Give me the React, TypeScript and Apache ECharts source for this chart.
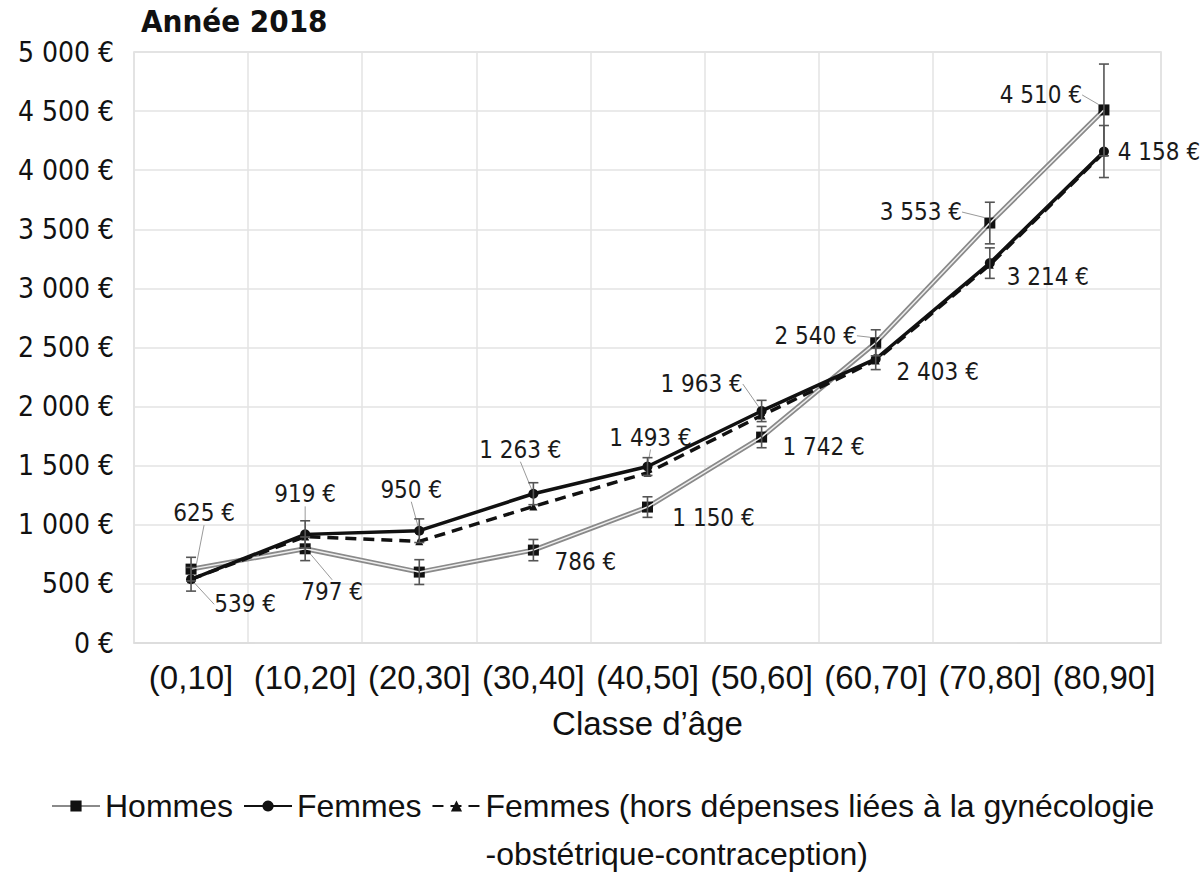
import React, { useEffect, useRef } from "react";
import * as echarts from "echarts";

const categories = ["(0,10]", "(10,20]", "(20,30]", "(30,40]", "(40,50]", "(50,60]", "(60,70]", "(70,80]", "(80,90]"];
const hommes = [625, 797, 600, 786, 1150, 1742, 2540, 3553, 4510];
const femmes = [539, 919, 950, 1263, 1493, 1963, 2403, 3214, 4158];
const femmesHors = [540, 900, 860, 1155, 1440, 1925, 2390, 3200, 4150];
const hommesErr = [100, 100, 105, 90, 87, 90, 110, 176, 388];
const femmesErr = [100, 115, 100, 93, 75, 90, 90, 129, 220];
const yMin = 0;
const yMax = 5000;
const yStep = 500;

const titleText = "Année 2018";
const xAxisName = "Classe d’âge";
const nameHommes = "Hommes";
const nameFemmes = "Femmes";
const nameFemmesHors = "Femmes (hors dépenses liées à la gynécologie-obstétrique-contraception)";

// label placement (offset of label centre from the point) and leader-line visibility
const hommesLabelOffset: ([number, number] | null)[] = [[13, -56], [27, 43], null, [52, 12], [66, 11], [62, 10], [-60, -7], [-69, -11], [-63, -15]];
const hommesLeader = [true, true, false, false, false, false, true, true, true];
const femmesLabelOffset: ([number, number] | null)[] = [[54, 25], [0, -40], [-8, -41], [-13, -44], [3, -29], [-60, -27], [62, 13], [58, 14], [55, 0]];
const femmesLeader = [true, true, true, true, true, true, false, false, false];

const NUM_FONT = "'DejaVu Sans Condensed', 'DejaVu Sans', sans-serif";
const TXT_FONT = "'Liberation Sans', Arial, sans-serif";

function euro(v: number): string {
  return String(v).replace(/\B(?=(\d{3})+(?!\d))/g, " ") + " €";
}

function labelledData(values: number[], offsets: ([number, number] | null)[], leaders: boolean[]) {
  return values.map((v, i) => ({
    value: v,
    label: { show: offsets[i] !== null },
    labelLine: { show: leaders[i] },
  }));
}

function errData(values: number[], errs: number[]) {
  return values.map((v, i) => [i, v - errs[i], v + errs[i]]);
}

function errRender(params: any, api: any) {
  const x = api.value(0);
  const lo = api.coord([x, api.value(1)]);
  const hi = api.coord([x, api.value(2)]);
  const half = 5;
  const style = { stroke: "#555", lineWidth: 1.6 };
  return {
    type: "group",
    children: [
      { type: "line", shape: { x1: lo[0], y1: lo[1], x2: hi[0], y2: hi[1] }, style },
      { type: "line", shape: { x1: lo[0] - half, y1: lo[1], x2: lo[0] + half, y2: lo[1] }, style },
      { type: "line", shape: { x1: hi[0] - half, y1: hi[1], x2: hi[0] + half, y2: hi[1] }, style },
    ],
  };
}

function makeLayout(offsets: ([number, number] | null)[]) {
  return (params: any) => {
    const off = offsets[params.dataIndex];
    if (!off) return {};
    const r = params.rect;
    return {
      x: r.x + r.width / 2 + off[0],
      y: r.y + r.height / 2 + off[1],
      align: "center",
      verticalAlign: "middle",
    };
  };
}

const labelStyle = {
  show: true,
  position: "top",
  fontFamily: NUM_FONT,
  fontSize: 24,
  color: "#1a1a1a",
  formatter: (p: any) => euro(p.value),
};

const labelLineStyle = { show: true, lineStyle: { color: "#9a9a9a", width: 1 } };

export default function App() {
  const ref = useRef<HTMLDivElement>(null);
  useEffect(() => {
    if (!ref.current) return;
    const chart = echarts.init(ref.current, null, { renderer: "svg" });
    chart.setOption({
      animation: false,
      backgroundColor: "#ffffff",
      title: {
        text: titleText,
        left: 136,
        top: 0,
        textStyle: { fontFamily: NUM_FONT, fontWeight: "bold", fontSize: 31, color: "#111" },
      },
      grid: {
        left: 134,
        right: 39,
        top: 52,
        bottom: 235,
        show: true,
        borderColor: "#dcdcdc",
        borderWidth: 1.5,
      },
      legend: {
        left: 46,
        top: 737,
        itemWidth: 48,
        itemHeight: 14,
        itemGap: 10,
        selectedMode: false,
        data: [nameHommes, nameFemmes, nameFemmesHors],
        formatter: (name: string) => {
          if (name === nameFemmesHors) {
            const parts = name.split("gynécologie");
            return "{s| }\n{t|" + parts[0] + "gynécologie}\n{t|" + parts[1] + "}";
          }
          return "{t|" + name + "}";
        },
        textStyle: {
          fontFamily: TXT_FONT,
          fontSize: 32,
          color: "#111",
          rich: {
            s: { fontFamily: TXT_FONT, fontSize: 32, lineHeight: 48 },
            t: { fontFamily: TXT_FONT, fontSize: 32, color: "#111", lineHeight: 48 },
          },
        },
      },
      xAxis: {
        type: "category",
        data: categories,
        boundaryGap: true,
        axisLine: { show: true, lineStyle: { color: "#dcdcdc", width: 1.5 } },
        axisTick: { show: false },
        splitLine: { show: true, lineStyle: { color: "#e3e3e3", width: 1.5 } },
        axisLabel: { fontFamily: TXT_FONT, fontSize: 33, color: "#111", margin: 18, interval: 0 },
        name: xAxisName,
        nameLocation: "middle",
        nameGap: 64,
        nameTextStyle: { fontFamily: TXT_FONT, fontSize: 33, color: "#111" },
      },
      yAxis: {
        type: "value",
        min: yMin,
        max: yMax,
        interval: yStep,
        axisLine: { show: false },
        axisTick: { show: false },
        splitLine: { show: true, lineStyle: { color: "#e3e3e3", width: 1.5 } },
        axisLabel: { fontFamily: NUM_FONT, fontSize: 28, color: "#111", margin: 20, formatter: (v: number) => euro(v) },
      },
      series: [
        {
          name: nameHommes,
          type: "line",
          data: labelledData(hommes, hommesLabelOffset, hommesLeader),
          symbol: "rect",
          symbolSize: 11,
          itemStyle: { color: "#111" },
          lineStyle: { color: "#8a8a8a", width: 5 },
          label: labelStyle,
          labelLine: labelLineStyle,
          labelLayout: makeLayout(hommesLabelOffset),
          z: 2,
        },
        {
          name: nameHommes,
          type: "line",
          data: hommes,
          symbol: "none",
          lineStyle: { color: "#eeeeee", width: 1.5 },
          silent: true,
          z: 3,
        },
        {
          name: nameFemmesHors,
          type: "line",
          data: femmesHors,
          symbol: "triangle",
          symbolSize: 8,
          itemStyle: { color: "#111" },
          lineStyle: { color: "#111", width: 3.5, type: [11, 7] },
          z: 4,
        },
        {
          name: nameFemmes,
          type: "line",
          data: labelledData(femmes, femmesLabelOffset, femmesLeader),
          symbol: "circle",
          symbolSize: 10,
          itemStyle: { color: "#111" },
          lineStyle: { color: "#111", width: 3.5 },
          label: labelStyle,
          labelLine: labelLineStyle,
          labelLayout: makeLayout(femmesLabelOffset),
          z: 5,
        },
        {
          type: "custom",
          name: "errH",
          data: errData(hommes, hommesErr),
          renderItem: errRender,
          z: 6,
          silent: true,
        },
        {
          type: "custom",
          name: "errF",
          data: errData(femmes, femmesErr),
          renderItem: errRender,
          z: 6,
          silent: true,
        },
      ],
    });
    return () => chart.dispose();
  }, []);
  return <div ref={ref} style={{ width: 1200, height: 878, position: "absolute", left: 0, top: 0 }} />;
}
